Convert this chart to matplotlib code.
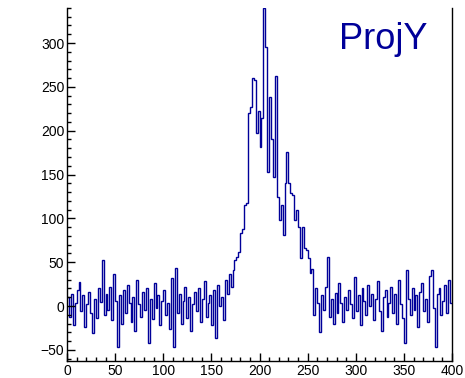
import numpy as np
import matplotlib
matplotlib.use("Agg")
from matplotlib import pyplot as plt
from matplotlib.ticker import MultipleLocator

plt.rcParams['font.family'] = ['Liberation Sans', 'DejaVu Sans']

# projection histogram: 200 bins of width 2 over [0, 400)
x_lo, x_hi = 0, 400
counts = [
  # 0 - 60
  10, -12, 14, -22, 4, 18, 27, -6, 12, -24,
  2, 16, -8, -31, 8, -14, 20, 5, 52, -10,
  14, -4, 22, -16, 37, 6, -47, 12, -20, 18,
  # 60 - 120
  -8, 24, 3, -18, 10, -28, 30, 2, -12, 16,
  -5, 20, -42, 8, -15, 26, -2, 12, -22, 6,
  18, -10, 4, -26, 32, -47, 43, -8, 14, -20,
  # 120 - 166
  6, 22, -14, 10, -28, 2, 16, -6, 20, -18,
  8, 28, -12, 4, 12, -22, 18, -36, 24, 0,
  10, -16, 30,
  # rising edge and peak
  14, 36, 22, 41, 52, 56, 62, 83, 88, 115,
  118, 220, 227, 260, 258, 197, 223, 181, 215, 340,
  295, 153, 238, 190, 147, 262, 124, 98, 115, 81,
  140, 176, 140, 129, 127, 98, 110, 90, 55, 90,
  66, 64, 55, 38, 42, -10, 20, 3, -30, 12,
  -5, 22, 56, -12, 8, -20, 15,
  # 280 - 400
  -8, 26, 4, -18, 10, -4, 18, 2, -14, 33,
  -6, 12, -22, 20, 6, -10, 24, 0, 14, -16,
  8, 28, -6, -28, 10, 18, -12, 4, 22, -8,
  14, -20, 30, 2, -14, -42, 41, 8, -10, 20,
  -4, 12, -24, 16, 26, -6, 8, -18, 34, 41,
  -2, -47, 14, 20, -10, 6, 24, -8, 30, 4,
]
counts = np.array(counts, dtype=float)
edges = np.linspace(x_lo, x_hi, len(counts) + 1)

line_color = '#000099'

fig = plt.figure(figsize=(4.65, 3.78), dpi=100)
ax = fig.add_axes([0.1441, 0.045, 0.828, 0.934])

ax.stairs(counts, edges, baseline=None, color=line_color, lw=1.0)

ax.set_xlim(x_lo, x_hi)
ax.set_ylim(-62.7, 340)

ax.xaxis.set_major_locator(MultipleLocator(50))
ax.xaxis.set_minor_locator(MultipleLocator(10))
ax.yaxis.set_major_locator(MultipleLocator(50))
ax.yaxis.set_minor_locator(MultipleLocator(10))
ax.tick_params(which='both', direction='in', top=False, right=False,
               labelsize=10, width=1, color='black', pad=2)
ax.tick_params(which='major', length=6)
ax.tick_params(which='minor', length=3)

ax.spines['top'].set_visible(False)
for side in ('left', 'bottom', 'right'):
  ax.spines[side].set_linewidth(1)

fig.text(339 / 465, 1 - 49 / 378, 'ProjY', color=line_color,
         fontsize=26, ha='left', va='baseline')

fig.savefig('out.png', dpi=100)
